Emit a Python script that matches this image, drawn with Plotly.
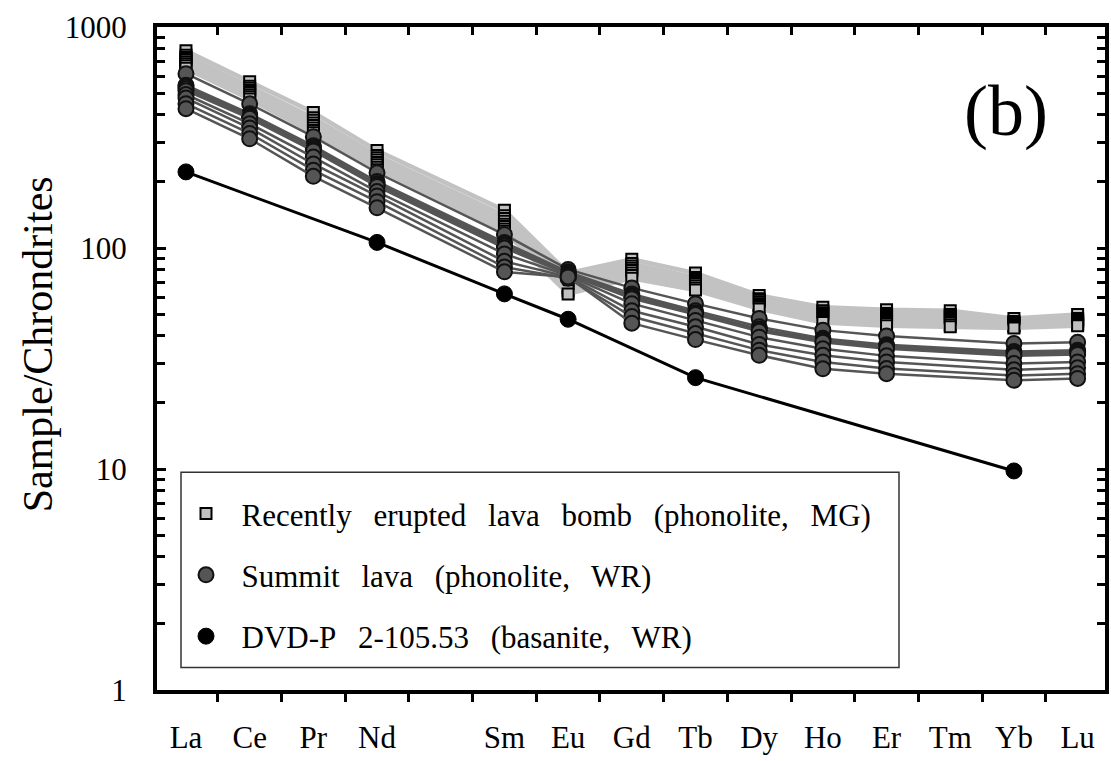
import plotly.graph_objects as go

# REE order (Pm left blank)
elements = ["La", "Ce", "Pr", "Nd", "Pm", "Sm", "Eu", "Gd", "Tb", "Dy", "Ho", "Er", "Tm", "Yb", "Lu"]
tick_labels = ["La", "Ce", "Pr", "Nd", "", "Sm", "Eu", "Gd", "Tb", "Dy", "Ho", "Er", "Tm", "Yb", "Lu"]

# Recently erupted lava bomb (phonolite, MG) - chondrite normalised
bomb_a = [780, 566, 410, 276, None, 148, 77, 89, 77, 61, 54, 52.5, 52, 48, 50]
bomb_b = [745, 540, 388, 262, None, 140, 74, 85, 73.5, 59, 52, 50.5, 50, 46.5, 48]
bomb_c = [728, 528, 378, 256, None, 136, 72, 83, 72, 58, 51, 49.5, 49, 46, 47.5]
bomb_d = [712, 516, 368, 250, None, 132, 70, 81, 70.5, 57, 50, 48.5, 48, 45.5, 47]
bomb_e = [697, 505, 358, 244, None, 128, 68, 79, 69, 56, 49, 47.5, 47, 45, 46.5]
bomb_f = [682, 494, 349, 238, None, 125, 66, 77, 67.5, 55, 48, 46.5, 46, 44.5, 45.5]
bomb_g = [667, 483, 340, 232, None, 122, 64, 75, 66, 54, 47, 45.5, 45, 44, 45]
bomb_h = [650, 472, 332, 226, None, 119, 62, 73, 64.5, 53, 46, 44.5, 44, 43.5, 44.5]
bombs = [bomb_a, bomb_b, bomb_c, bomb_d, bomb_e, bomb_f, bomb_g, bomb_h]

# Summit lava (phonolite, WR)
summit_a = [615, 449, 319, 219, None, 115, 80, 66, 56, 48, 42.5, 40, None, 37, 37.5]
summit_b = [545, 405, 290, 200, None, 106, 78, 62, 52, 44, 39, 36.5, None, 34, 34.5]
summit_c = [535, 398, 285, 196, None, 104, 77, 61, 51, 43, 38.5, 36, None, 33.5, 34]
summit_d = [525, 392, 280, 193, None, 102, 77, 60, 50.5, 42.5, 38, 35.5, None, 33, 33.5]
summit_e = [515, 386, 275, 190, None, 100, 76, 59, 50, 42, 37.5, 35, None, 32.5, 33]
summit_f = [495, 365, 258, 180, None, 94, 75, 56, 47, 39.5, 35, 32.5, None, 30, 30.5]
summit_g = [477, 349, 240, 172, None, 87, 74, 52, 44, 36.6, 32.7, 30.5, None, 28.1, 28.7]
summit_h = [450, 330, 225, 162, None, 82, 73, 49, 41, 34.5, 30.5, 28.5, None, 26.5, 27]
summit_i = [427, 312, 211, 152, None, 78, 74, 45.7, 38.5, 32.7, 28.4, 27, None, 25.2, 25.7]
summits = [summit_a, summit_b, summit_c, summit_d, summit_e, summit_f, summit_g, summit_h, summit_i]

# DVD-P 2-105.53 (basanite, WR)
basanite = [221, None, None, 106, None, 62, 47.6, None, 25.9, None, None, None, None, 9.8, None]

# wide word spacing in the legend entries
GAP = "\u00a0\u2009 "
LEAD = "\u00a0\u00a0"
legend_names = [
    LEAD + GAP.join(["Recently", "erupted", "lava", "bomb", "(phonolite,", "MG)"]),
    LEAD + GAP.join(["Summit", "lava", "(phonolite,", "WR)"]),
    LEAD + GAP.join(["DVD-P", "2-105.53", "(basanite,", "WR)"]),
]

FONT = "Liberation Serif, Times New Roman, serif"
xpos = list(range(len(elements)))

BOMB_MARKER = dict(symbol="square", size=11, color="#c0c0c0", line=dict(color="black", width=2))
SUMMIT_MARKER = dict(symbol="circle", size=15, color="#555555", line=dict(color="#111111", width=2))
BAS_MARKER = dict(symbol="circle", size=16, color="black", line=dict(color="black", width=1))

fig = go.Figure()

for vals in bombs:
    fig.add_trace(go.Scatter(
        x=xpos, y=vals, mode="lines+markers", connectgaps=True, showlegend=False,
        line=dict(color="#c2c2c2", width=4.5), marker=BOMB_MARKER, hoverinfo="skip"))

for vals in summits:
    fig.add_trace(go.Scatter(
        x=xpos, y=vals, mode="lines+markers", connectgaps=True, showlegend=False,
        line=dict(color="#555555", width=2.5), marker=SUMMIT_MARKER, hoverinfo="skip"))

fig.add_trace(go.Scatter(
    x=xpos, y=basanite, mode="lines+markers", connectgaps=True, showlegend=False,
    line=dict(color="black", width=3), marker=BAS_MARKER, hoverinfo="skip"))

# legend-only entries (markers without line segment)
for i, (name, mk) in enumerate(zip(legend_names, [BOMB_MARKER, SUMMIT_MARKER, BAS_MARKER])):
    fig.add_trace(go.Scatter(x=[None], y=[None], mode="markers", name=name, marker=mk,
                             legendgroup=f"g{i}", showlegend=True))

# carriers for the top and right frame axes
fig.add_trace(go.Scatter(x=[None], y=[None], xaxis="x2", showlegend=False, hoverinfo="skip"))
fig.add_trace(go.Scatter(x=[None], y=[None], yaxis="y2", showlegend=False, hoverinfo="skip"))

x0, x1 = -0.455, 14.43
half_ticks = [i - 0.5 for i in range(len(elements) + 1)]
major_y = [1, 10, 100, 1000]
minor_y = [m * 10 ** d for d in range(3) for m in range(2, 10)]

fig.update_layout(
    width=1111, height=761,
    margin=dict(l=157, r=6, t=27, b=55),
    paper_bgcolor="white", plot_bgcolor="white",
    font=dict(family=FONT, color="black"),
    xaxis=dict(
        range=[x0, x1], tickmode="array", tickvals=xpos, ticktext=tick_labels,
        ticks="", showgrid=False, zeroline=False,
        showline=True, linecolor="black", linewidth=4,
        tickfont=dict(family=FONT, size=31, color="black"),
        ticklabelstandoff=17,
        minor=dict(tickmode="array", tickvals=half_ticks, ticks="outside",
                   ticklen=8, tickwidth=3, tickcolor="black", showgrid=False),
    ),
    xaxis2=dict(
        overlaying="x", side="top", anchor="y", range=[x0, x1],
        tickmode="array", tickvals=half_ticks, ticks="inside", ticklen=8, tickwidth=3,
        tickcolor="black", showticklabels=False, showgrid=False, zeroline=False,
        showline=True, linecolor="black", linewidth=4,
    ),
    yaxis=dict(
        type="log", range=[0, 3], tickmode="array",
        tickvals=major_y, ticktext=["1", "10", "100", "1000"],
        ticks="inside", ticklen=9, tickwidth=3, tickcolor="black",
        showline=True, linecolor="black", linewidth=4,
        showgrid=False, zeroline=False,
        tickfont=dict(family=FONT, size=31, color="black"),
        ticklabelstandoff=20,
        minor=dict(tickmode="array", tickvals=minor_y, ticks="inside",
                   ticklen=8, tickwidth=3, tickcolor="black", showgrid=False),
    ),
    yaxis2=dict(
        type="log", range=[0, 3], overlaying="y", side="right", anchor="x",
        tickmode="array", tickvals=major_y + minor_y, ticks="inside", ticklen=8, tickwidth=3,
        tickcolor="black", showticklabels=False, showgrid=False, zeroline=False,
        showline=True, linecolor="black", linewidth=4,
    ),
    legend=dict(
        x=(186 - 157) / 948, y=(706 - 498) / 679, xanchor="left", yanchor="top",
        bgcolor="rgba(0,0,0,0)", borderwidth=0,
        font=dict(family=FONT, size=31, color="black"),
        tracegroupgap=18, itemsizing="trace",
    ),
    shapes=[dict(
        type="rect", xref="paper", yref="paper",
        x0=(181 - 157) / 948, x1=(899 - 157) / 948,
        y0=(706 - 683) / 679, y1=(706 - 483) / 679,
        line=dict(color="#333333", width=1.5), fillcolor="white", layer="below")],
    annotations=[
        dict(text="Sample/Chrondrites", textangle=-90, xref="paper", yref="paper",
             x=(38 - 157) / 948, y=(706 - 352) / 679, xanchor="center", yanchor="middle",
             showarrow=False, font=dict(family=FONT, size=42, color="black")),
        dict(text="(b)", xref="paper", yref="paper",
             x=(1006 - 157) / 948, y=(706 - 113) / 679, xanchor="center", yanchor="middle",
             showarrow=False, font=dict(family=FONT, size=72, color="black")),
    ],
)

fig.write_html("out.html")
